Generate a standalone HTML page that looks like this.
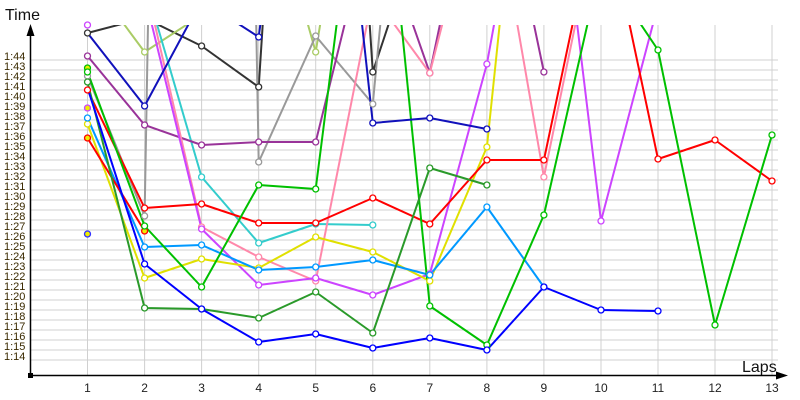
<!DOCTYPE html>
<html><head><meta charset="utf-8"><style>
body{margin:0;background:#fff}
svg{display:block;font-family:"Liberation Sans",sans-serif}
.g line{stroke:#d0d0d0;stroke-width:1}
.yl text{font-size:11px;fill:#3a2a00}
.xl text{font-size:12px;fill:#222;text-anchor:middle}
polyline{fill:none;stroke-width:2;stroke-linejoin:round}
circle{fill:#fff;stroke-width:1.3}
</style></head><body>
<svg width="800" height="400" viewBox="0 0 800 400">
<defs><clipPath id="c"><rect x="31" y="25" width="750" height="349"/></clipPath></defs>
<g class="g">
<line x1="30" x2="778" y1="60" y2="60"/><line x1="30" x2="778" y1="70" y2="70"/><line x1="30" x2="778" y1="80" y2="80"/><line x1="30" x2="778" y1="90" y2="90"/><line x1="30" x2="778" y1="100" y2="100"/><line x1="30" x2="778" y1="110" y2="110"/><line x1="30" x2="778" y1="120" y2="120"/><line x1="30" x2="778" y1="130" y2="130"/><line x1="30" x2="778" y1="140" y2="140"/><line x1="30" x2="778" y1="150" y2="150"/><line x1="30" x2="778" y1="160" y2="160"/><line x1="30" x2="778" y1="170" y2="170"/><line x1="30" x2="778" y1="180" y2="180"/><line x1="30" x2="778" y1="190" y2="190"/><line x1="30" x2="778" y1="200" y2="200"/><line x1="30" x2="778" y1="210" y2="210"/><line x1="30" x2="778" y1="220" y2="220"/><line x1="30" x2="778" y1="230" y2="230"/><line x1="30" x2="778" y1="240" y2="240"/><line x1="30" x2="778" y1="250" y2="250"/><line x1="30" x2="778" y1="260" y2="260"/><line x1="30" x2="778" y1="270" y2="270"/><line x1="30" x2="778" y1="280" y2="280"/><line x1="30" x2="778" y1="290" y2="290"/><line x1="30" x2="778" y1="300" y2="300"/><line x1="30" x2="778" y1="310" y2="310"/><line x1="30" x2="778" y1="320" y2="320"/><line x1="30" x2="778" y1="330" y2="330"/><line x1="30" x2="778" y1="340" y2="340"/><line x1="30" x2="778" y1="350" y2="350"/><line x1="30" x2="778" y1="360" y2="360"/>
<line x1="87.5" x2="87.5" y1="25" y2="375"/><line x1="144.6" x2="144.6" y1="25" y2="375"/><line x1="201.6" x2="201.6" y1="25" y2="375"/><line x1="258.7" x2="258.7" y1="25" y2="375"/><line x1="315.7" x2="315.7" y1="25" y2="375"/><line x1="372.8" x2="372.8" y1="25" y2="375"/><line x1="429.8" x2="429.8" y1="25" y2="375"/><line x1="486.9" x2="486.9" y1="25" y2="375"/><line x1="543.9" x2="543.9" y1="25" y2="375"/><line x1="601" x2="601" y1="25" y2="375"/><line x1="658" x2="658" y1="25" y2="375"/><line x1="715" x2="715" y1="25" y2="375"/><line x1="772" x2="772" y1="25" y2="375"/>
</g>
<g class="yl">
<text x="4" y="60">1:44</text><text x="4" y="70">1:43</text><text x="4" y="80">1:42</text><text x="4" y="90">1:41</text><text x="4" y="100">1:40</text><text x="4" y="110">1:39</text><text x="4" y="120">1:38</text><text x="4" y="130">1:37</text><text x="4" y="140">1:36</text><text x="4" y="150">1:35</text><text x="4" y="160">1:34</text><text x="4" y="170">1:33</text><text x="4" y="180">1:32</text><text x="4" y="190">1:31</text><text x="4" y="200">1:30</text><text x="4" y="210">1:29</text><text x="4" y="220">1:28</text><text x="4" y="230">1:27</text><text x="4" y="240">1:26</text><text x="4" y="250">1:25</text><text x="4" y="260">1:24</text><text x="4" y="270">1:23</text><text x="4" y="280">1:22</text><text x="4" y="290">1:21</text><text x="4" y="300">1:20</text><text x="4" y="310">1:19</text><text x="4" y="320">1:18</text><text x="4" y="330">1:17</text><text x="4" y="340">1:16</text><text x="4" y="350">1:15</text><text x="4" y="360">1:14</text>
</g>
<g class="xl">
<text x="87.5" y="392">1</text><text x="144.6" y="392">2</text><text x="201.6" y="392">3</text><text x="258.7" y="392">4</text><text x="315.7" y="392">5</text><text x="372.8" y="392">6</text><text x="429.8" y="392">7</text><text x="486.9" y="392">8</text><text x="543.9" y="392">9</text><text x="601" y="392">10</text><text x="658" y="392">11</text><text x="715" y="392">12</text><text x="772" y="392">13</text>
</g>
<text x="5" y="20" font-size="16" fill="#111">Time</text>
<text x="742" y="372" font-size="16" fill="#111">Laps</text>
<g clip-path="url(#c)">
<polyline stroke="#333333" points="87.5,33 144.6,18 201.6,46 258.7,87 315.7,-800 372.8,72 429.8,-100"/>
<polyline stroke="#aacc66" points="87.5,-25 144.6,52 201.6,15 258.7,-150 315.7,52 372.8,-300"/>
<polyline stroke="#999999" points="87.5,76 144.6,216 201.6,-3000 258.7,162 315.7,36 372.8,104 429.8,-500"/>
<polyline stroke="#33cccc" points="144.6,-18 201.6,177 258.7,243 315.7,224 372.8,225"/>
<polyline stroke="#993399" points="87.5,56 144.6,125 201.6,145 258.7,142 315.7,142 372.8,-90 429.8,73 486.9,-200 543.9,72"/>
<polyline stroke="#ff88aa" points="144.6,-20 201.6,227 258.7,257 315.7,281 372.8,-5 429.8,73 486.9,-150 543.9,177 601,-100"/>
<polyline stroke="#cc44ff" points="144.6,-5 201.6,229 258.7,285 315.7,278 372.8,295 429.8,274 486.9,64 543.9,-250 601,221 658,5"/>
<polyline stroke="#e0e000" points="87.5,124 144.6,278 201.6,259 258.7,268 315.7,237 372.8,252 429.8,281 486.9,147 543.9,-400"/>
<polyline stroke="#0099ff" points="87.5,118 144.6,247 201.6,245 258.7,270 315.7,267 372.8,260 429.8,275 486.9,207 543.9,287"/>
<polyline stroke="#ff0000" points="87.5,138 144.6,231"/>
<polyline stroke="#ff0000" points="87.5,90 144.6,208 201.6,204 258.7,223 315.7,223 372.8,198 429.8,224 486.9,160 543.9,160 601,-110 658,159 715,140 772,181"/>
<polyline stroke="#00c000" points="87.5,72 144.6,226 201.6,287 258.7,185 315.7,189 372.8,-260 429.8,306 486.9,345 543.9,215 601,-35 658,50 715,325 772,135"/>
<polyline stroke="#2a9a2a" points="87.5,82 144.6,308 201.6,309 258.7,318 315.7,292 372.8,333 429.8,168 486.9,185"/>
<polyline stroke="#0000ff" points="87.5,88 144.6,264 201.6,309 258.7,342 315.7,334 372.8,348 429.8,338 486.9,350 543.9,287 601,310 658,311"/>
<polyline stroke="#1111bb" points="87.5,33 144.6,106 201.6,0 258.7,37 315.7,-400 372.8,123 429.8,118 486.9,129"/>
</g>
<g>
<circle stroke="#333333" cx="87.5" cy="33" r="3"/><circle stroke="#333333" cx="201.6" cy="46" r="3"/><circle stroke="#333333" cx="258.7" cy="87" r="3"/><circle stroke="#333333" cx="372.8" cy="72" r="3"/>
<circle stroke="#00c000" cx="87.5" cy="68" r="3" style="fill:#ee0"/><circle stroke="#aacc66" cx="144.6" cy="52" r="3"/><circle stroke="#aacc66" cx="315.7" cy="52" r="3"/>
<circle stroke="#999999" cx="87.5" cy="76" r="3"/><circle stroke="#999999" cx="144.6" cy="216" r="3"/><circle stroke="#999999" cx="258.7" cy="162" r="3"/><circle stroke="#999999" cx="315.7" cy="36" r="3"/><circle stroke="#999999" cx="372.8" cy="104" r="3"/>
<circle stroke="#33cccc" cx="201.6" cy="177" r="3"/><circle stroke="#33cccc" cx="258.7" cy="243" r="3"/><circle stroke="#33cccc" cx="315.7" cy="224" r="3"/><circle stroke="#33cccc" cx="372.8" cy="225" r="3"/>
<circle stroke="#993399" cx="87.5" cy="56" r="3"/><circle stroke="#993399" cx="144.6" cy="125" r="3"/><circle stroke="#993399" cx="201.6" cy="145" r="3"/><circle stroke="#993399" cx="258.7" cy="142" r="3"/><circle stroke="#993399" cx="315.7" cy="142" r="3"/><circle stroke="#993399" cx="429.8" cy="73" r="3"/><circle stroke="#993399" cx="543.9" cy="72" r="3"/>
<circle stroke="#ff88aa" cx="201.6" cy="227" r="3"/><circle stroke="#ff88aa" cx="258.7" cy="257" r="3"/><circle stroke="#ff88aa" cx="315.7" cy="281" r="3"/><circle stroke="#ff88aa" cx="429.8" cy="73" r="3"/><circle stroke="#ff88aa" cx="543.9" cy="177" r="3"/>
<circle stroke="#cc44ff" cx="87.5" cy="25" r="3"/><circle stroke="#cc44ff" cx="201.6" cy="229" r="3"/><circle stroke="#cc44ff" cx="258.7" cy="285" r="3"/><circle stroke="#cc44ff" cx="315.7" cy="278" r="3"/><circle stroke="#cc44ff" cx="372.8" cy="295" r="3"/><circle stroke="#cc44ff" cx="429.8" cy="274" r="3"/><circle stroke="#cc44ff" cx="486.9" cy="64" r="3"/><circle stroke="#cc44ff" cx="601" cy="221" r="3"/>
<circle stroke="#cc44ff" cx="87.5" cy="108" r="3" style="fill:#ee0"/>
<circle stroke="#e0e000" cx="87.5" cy="124" r="3"/><circle stroke="#e0e000" cx="144.6" cy="278" r="3"/><circle stroke="#e0e000" cx="201.6" cy="259" r="3"/><circle stroke="#e0e000" cx="258.7" cy="268" r="3"/><circle stroke="#e0e000" cx="315.7" cy="237" r="3"/><circle stroke="#e0e000" cx="372.8" cy="252" r="3"/><circle stroke="#e0e000" cx="429.8" cy="281" r="3"/><circle stroke="#e0e000" cx="486.9" cy="147" r="3"/>
<circle stroke="#0099ff" cx="87.5" cy="118" r="3"/><circle stroke="#0099ff" cx="144.6" cy="247" r="3"/><circle stroke="#0099ff" cx="201.6" cy="245" r="3"/><circle stroke="#0099ff" cx="258.7" cy="270" r="3"/><circle stroke="#0099ff" cx="315.7" cy="267" r="3"/><circle stroke="#0099ff" cx="372.8" cy="260" r="3"/><circle stroke="#0099ff" cx="429.8" cy="275" r="3"/><circle stroke="#0099ff" cx="486.9" cy="207" r="3"/><circle stroke="#0099ff" cx="543.9" cy="287" r="3"/>
<circle stroke="#ff0000" cx="87.5" cy="138" r="3" style="fill:#ee0"/><circle stroke="#ff0000" cx="144.6" cy="231" r="3" style="fill:#ee0"/>
<circle stroke="#ff0000" cx="87.5" cy="90" r="3"/><circle stroke="#ff0000" cx="144.6" cy="208" r="3"/><circle stroke="#ff0000" cx="201.6" cy="204" r="3"/><circle stroke="#ff0000" cx="258.7" cy="223" r="3"/><circle stroke="#ff0000" cx="315.7" cy="223" r="3"/><circle stroke="#ff0000" cx="372.8" cy="198" r="3"/><circle stroke="#ff0000" cx="429.8" cy="224" r="3"/><circle stroke="#ff0000" cx="486.9" cy="160" r="3"/><circle stroke="#ff0000" cx="543.9" cy="160" r="3"/><circle stroke="#ff0000" cx="658" cy="159" r="3"/><circle stroke="#ff0000" cx="715" cy="140" r="3"/><circle stroke="#ff0000" cx="772" cy="181" r="3"/>
<circle stroke="#00c000" cx="87.5" cy="72" r="3"/><circle stroke="#00c000" cx="144.6" cy="226" r="3"/><circle stroke="#00c000" cx="201.6" cy="287" r="3"/><circle stroke="#00c000" cx="258.7" cy="185" r="3"/><circle stroke="#00c000" cx="315.7" cy="189" r="3"/><circle stroke="#00c000" cx="429.8" cy="306" r="3"/><circle stroke="#00c000" cx="486.9" cy="345" r="3"/><circle stroke="#00c000" cx="543.9" cy="215" r="3"/><circle stroke="#00c000" cx="658" cy="50" r="3"/><circle stroke="#00c000" cx="715" cy="325" r="3"/><circle stroke="#00c000" cx="772" cy="135" r="3"/>
<circle stroke="#2a9a2a" cx="87.5" cy="82" r="3"/><circle stroke="#2a9a2a" cx="144.6" cy="308" r="3"/><circle stroke="#2a9a2a" cx="201.6" cy="309" r="3"/><circle stroke="#2a9a2a" cx="258.7" cy="318" r="3"/><circle stroke="#2a9a2a" cx="315.7" cy="292" r="3"/><circle stroke="#2a9a2a" cx="372.8" cy="333" r="3"/><circle stroke="#2a9a2a" cx="429.8" cy="168" r="3"/><circle stroke="#2a9a2a" cx="486.9" cy="185" r="3"/>
<circle stroke="#0000ff" cx="144.6" cy="264" r="3"/><circle stroke="#0000ff" cx="201.6" cy="309" r="3"/><circle stroke="#0000ff" cx="258.7" cy="342" r="3"/><circle stroke="#0000ff" cx="315.7" cy="334" r="3"/><circle stroke="#0000ff" cx="372.8" cy="348" r="3"/><circle stroke="#0000ff" cx="429.8" cy="338" r="3"/><circle stroke="#0000ff" cx="486.9" cy="350" r="3"/><circle stroke="#0000ff" cx="543.9" cy="287" r="3"/><circle stroke="#0000ff" cx="601" cy="310" r="3"/><circle stroke="#0000ff" cx="658" cy="311" r="3"/>
<circle stroke="#3333ff" cx="87.5" cy="234" r="3" style="fill:#ee0"/>
<circle stroke="#1111bb" cx="144.6" cy="106" r="3"/><circle stroke="#1111bb" cx="258.7" cy="37" r="3"/><circle stroke="#1111bb" cx="372.8" cy="123" r="3"/><circle stroke="#1111bb" cx="429.8" cy="118" r="3"/><circle stroke="#1111bb" cx="486.9" cy="129" r="3"/>
</g>
<g stroke="#000" stroke-width="1.5">
<line x1="30.5" y1="34" x2="30.5" y2="375"/><line x1="30" y1="375.5" x2="778" y2="375.5"/>
</g>
<polygon points="30.5,24 26.5,36 34.5,36" fill="#000"/>
<polygon points="788,375.5 776,371.5 776,379.5" fill="#000"/>
<rect x="28" y="373" width="5" height="5" fill="#000"/>
</svg>
</body></html>
